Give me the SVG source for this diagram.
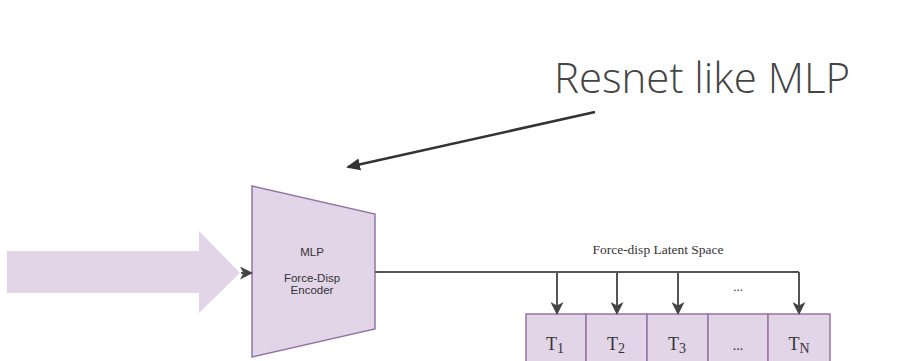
<svg xmlns="http://www.w3.org/2000/svg" width="902" height="361" viewBox="0 0 902 361">
<style>
.fill{fill:#e1d5e7;}
.node{fill:#e1d5e7;stroke:#9673a6;stroke-width:1.5;}
.conn{fill:none;stroke:#555;stroke-width:2;}
.sans{font-family:"Liberation Sans",Arial,sans-serif;fill:#333;font-size:11.5px;text-anchor:middle;}
.serif{font-family:"Liberation Serif","Times New Roman",serif;fill:#333;text-anchor:middle;}
</style>
<defs>
<marker id="ah" markerWidth="13" markerHeight="13" refX="11" refY="6.5" orient="auto" markerUnits="userSpaceOnUse">
<path d="M0,0 L13,6.5 L0,13 L3.5,6.5 Z" fill="#444"/>
</marker>
<marker id="ah2" markerWidth="14" markerHeight="14" refX="12" refY="7" orient="auto" markerUnits="userSpaceOnUse">
<path d="M0,1 L14,7 L0,13 Z" fill="#333"/>
</marker>
</defs>
<rect width="902" height="361" fill="#fff"/>
<text x="702" y="93" font-family="'Open Sans',sans-serif" font-weight="300" font-size="42" fill="#444" text-anchor="middle">Resnet like MLP</text>
<g id="input-arrow">
<path class="fill" d="M7,251 H199 V231 L240,273 L199,313 V293 H7 Z"/>
</g>
<g id="encoder">
<path class="node" d="M252,186 L375,214 L375,329 L252,357 Z"/>
<text class="sans" x="312" y="256">MLP</text>
<text class="sans" x="312" y="282">Force-Disp</text>
<text class="sans" x="312" y="294">Encoder</text>
</g>
<g id="tokens">
<rect class="node" x="526" y="314" width="60" height="60"/>
<rect class="node" x="586" y="314" width="61" height="60"/>
<rect class="node" x="647" y="314" width="61" height="60"/>
<rect class="node" x="708" y="314" width="60" height="60"/>
<rect class="node" x="768" y="314" width="62" height="60"/>
<text class="serif" font-size="18" x="555" y="350">T<tspan font-size="14" dy="3">1</tspan></text>
<text class="serif" font-size="18" x="616" y="350">T<tspan font-size="14" dy="3">2</tspan></text>
<text class="serif" font-size="18" x="677" y="350">T<tspan font-size="14" dy="3">3</tspan></text>
<text class="serif" font-size="14" x="738" y="350">...</text>
<text class="serif" font-size="18" x="799" y="350">T<tspan font-size="14" dy="3">N</tspan></text>
</g>
<g id="labels">
<text class="serif" font-size="13.5" x="658" y="254">Force-disp Latent Space</text>
<text class="serif" font-size="13" x="738" y="291">...</text>
</g>
<g id="connectors">
<line class="conn" x1="241" y1="273" x2="251" y2="273" marker-end="url(#ah)"/>
<path class="conn" d="M375,272 H799"/>
<line class="conn" x1="557" y1="272" x2="557" y2="313" marker-end="url(#ah)"/>
<line class="conn" x1="617" y1="272" x2="617" y2="313" marker-end="url(#ah)"/>
<line class="conn" x1="678" y1="272" x2="678" y2="313" marker-end="url(#ah)"/>
<line class="conn" x1="799" y1="272" x2="799" y2="313" marker-end="url(#ah)"/>
<line x1="595" y1="112" x2="348" y2="167" stroke="#333" stroke-width="2.5" marker-end="url(#ah2)"/>
</g>
</svg>
